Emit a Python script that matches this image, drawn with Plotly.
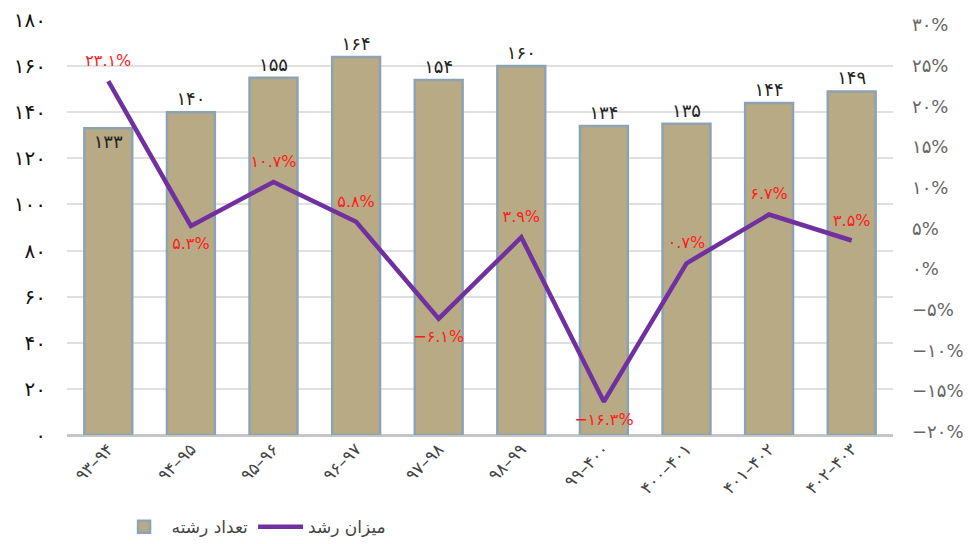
import plotly.graph_objects as go

categories = ["۹۳–۹۴", "۹۴–۹۵", "۹۵–۹۶", "۹۶–۹۷", "۹۷–۹۸", "۹۸–۹۹", "۹۹–۴۰۰", "۴۰۰–۴۰۱", "۴۰۱–۴۰۲", "۴۰۲–۴۰۳"]
counts = [133, 140, 155, 164, 154, 160, 134, 135, 144, 149]
count_labels = ["۱۳۳", "۱۴۰", "۱۵۵", "۱۶۴", "۱۵۴", "۱۶۰", "۱۳۴", "۱۳۵", "۱۴۴", "۱۴۹"]
growth = [23.1, 5.3, 10.7, 5.8, -6.1, 3.9, -16.3, 0.7, 6.7, 3.5]
growth_labels = ["۲۳.۱%", "۵.۳%", "۱۰.۷%", "۵.۸%", "−۶.۱%", "۳.۹%", "−۱۶.۳%", "۰.۷%", "۶.۷%", "۳.۵%"]
growth_label_pos = ["top center", "bottom center", "top center", "top center", "bottom center",
                    "top center", "bottom center", "top center", "top center", "top center"]
count_label_pos = ["inside"] + ["outside"] * 9

left_ticks = [0, 20, 40, 60, 80, 100, 120, 140, 160, 180]
left_tick_text = ["۰", "۲۰", "۴۰", "۶۰", "۸۰", "۱۰۰", "۱۲۰", "۱۴۰", "۱۶۰", "۱۸۰"]
right_ticks = [-20, -15, -10, -5, 0, 5, 10, 15, 20, 25, 30]
right_tick_text = ["−۲۰%", "−۱۵%", "−۱۰%", "−۵%", "۰%", "۵%", "۱۰%", "۱۵%", "۲۰%", "۲۵%", "۳۰%"]

FONT = "DejaVu Sans"

fig = go.Figure()
fig.add_trace(go.Bar(
    x=categories, y=counts, name="تعداد رشته",
    marker=dict(color="#b7aa84", line=dict(color="#8da3b3", width=2.5)),
    text=count_labels, textposition=count_label_pos, insidetextanchor="end",
    textfont=dict(family=FONT, size=18, color="#222222"),
    cliponaxis=False,
))
fig.add_trace(go.Scatter(
    x=categories, y=growth, name="میزان رشد", yaxis="y2",
    mode="lines+markers+text", line=dict(color="#7030a0", width=4.5),
    marker=dict(size=16, color="rgba(0,0,0,0)"),
    text=growth_labels, textposition=growth_label_pos,
    textfont=dict(family=FONT, size=16, color="#ff1a1a"),
    cliponaxis=False,
))

fig.update_layout(
    width=977, height=544,
    margin=dict(l=67, r=84, t=20, b=109, autoexpand=False),
    paper_bgcolor="white", plot_bgcolor="white",
    font=dict(family=FONT),
    bargap=0.42,
    showlegend=True,
    legend=dict(orientation="h", x=0.06, xanchor="left", y=-0.222, yanchor="middle",
                font=dict(family=FONT, size=17, color="#444444"),
                traceorder="normal", itemwidth=45),
    xaxis=dict(range=[-0.5, len(categories) - 0.5], tickangle=-45,
               tickfont=dict(family=FONT, size=17, color="#444444"),
               showline=False, showgrid=False, ticks="", automargin=False),
    yaxis=dict(range=[0, 180], tickvals=left_ticks, ticktext=left_tick_text,
               tickfont=dict(family=FONT, size=20, color="#111111"),
               showgrid=True, gridcolor="#e0e0e0", gridwidth=1.5,
               zeroline=True, zerolinecolor="#c6c6c6", zerolinewidth=3,
               showline=False, ticks="", ticklabelstandoff=20, automargin=False),
    yaxis2=dict(range=[-20.4, 30.6], overlaying="y", side="right",
                tickvals=right_ticks, ticktext=right_tick_text,
                tickfont=dict(family=FONT, size=18, color="#666666"),
                showgrid=False, zeroline=False, showline=False, ticks="",
                ticklabelstandoff=18, automargin=False),
)

fig.write_html("out.html", config={"responsive": False, "displayModeBar": False},
               post_script="document.body.style.margin='0';document.body.style.overflow='hidden';")
